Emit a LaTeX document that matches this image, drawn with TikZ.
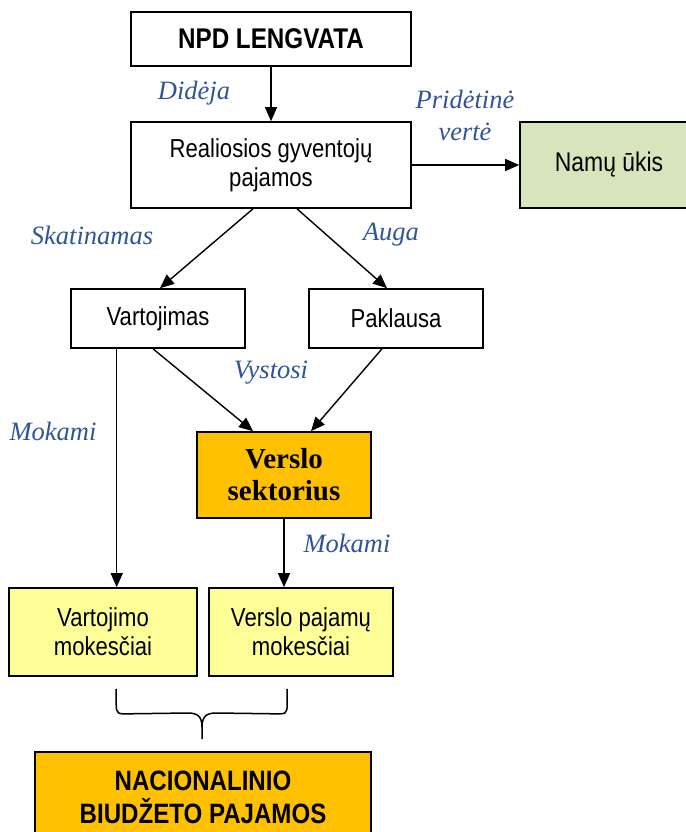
\documentclass[tikz,border=0pt]{standalone}
\usepackage{fontspec}
\setmainfont{Liberation Serif}
\newfontfamily\narrowsans{Liberation Sans}[FakeStretch=0.85]
\newfontfamily\headsans{Liberation Sans}[FakeStretch=0.86]
\usetikzlibrary{arrows.meta,calc}

\definecolor{labelblue}{RGB}{47,85,151}
\definecolor{hhgreen}{RGB}{215,228,188}
\definecolor{bizorange}{RGB}{255,192,0}
\definecolor{taxyellow}{RGB}{255,255,153}

\tikzset{
  box/.style={draw=black, line width=1.6pt, rectangle, align=center, inner sep=2pt,
              font=\narrowsans\fontsize{26}{29}\selectfont},
  flow/.style={line width=1.4pt, -{Triangle[length=14pt,width=12pt]}},
  note/.style={text=labelblue, align=center,
               font=\itshape\fontsize{26.5}{32}\selectfont},
}

\begin{document}
\begin{tikzpicture}[x=1pt,y=1pt]
\useasboundingbox (0,0) rectangle (685,-832);

% boxes
\node[box, minimum width=280, minimum height=54,
      font=\narrowsans\bfseries\fontsize{28.5}{30}\selectfont] (npd) at (271,-39) {NPD LENGVATA};
\node[box, minimum width=280, minimum height=86] (real) at (271,-165)
      {Realiosios gyventojų\\pajamos};
\node[box, fill=hhgreen, minimum width=178, minimum height=86,
      font=\narrowsans\fontsize{27}{29}\selectfont] (namu) at (609,-165)
      {Namų ūkis};
\node[box, minimum width=174, minimum height=59] (vart) at (158,-318.5) {Vartojimas};
\node[box, minimum width=174, minimum height=59] (pakl) at (396,-318.5) {Paklausa};
\node[box, fill=bizorange, minimum width=174, minimum height=86,
      font=\bfseries\fontsize{29}{32}\selectfont] (verslo) at (284,-475) {Verslo\\sektorius};
\node[box, fill=taxyellow, minimum width=188, minimum height=88] (vmok) at (103,-632)
      {Vartojimo\\mokesčiai};
\node[box, fill=taxyellow, minimum width=184, minimum height=88] (vpmok) at (301,-632)
      {Verslo pajamų\\mokesčiai};
\node[box, fill=bizorange, minimum width=336, minimum height=90,
      font=\headsans\bfseries\fontsize{28}{33}\selectfont] (nac) at (203,-797)
      {NACIONALINIO\\BIUDŽETO PAJAMOS};

% connectors
\draw[flow] (npd.south) -- (real.north);
\draw[flow] (real.east) -- (namu.west);
\draw[flow] ($(real.south)+(-18,0)$) -- ($(vart.north)+(2,0)$);
\draw[flow] ($(real.south)+(26,0)$) -- ($(pakl.north)+(-9,0)$);
\draw[flow] ($(vart.south)+(-5,0)$) -- ($(verslo.north)+(-31,0)$);
\draw[flow] ($(pakl.south)+(-14,0)$) -- ($(verslo.north)+(27,0)$);
\coordinate (vdrop) at ($(vart.south west)+(46.5,0)$);
\draw[flow] (vdrop) -- (vdrop |- vmok.north);
\draw[flow] (verslo.south) -- (verslo.south |- vpmok.north);

% brace gathering both taxes
\coordinate (bl) at ($(vmok.south west)+(108,-12)$);
\coordinate (br) at ($(vpmok.south west)+(79,-12)$);
\coordinate (btip) at (202,-739);
\draw[line width=1.5pt]
  (bl) -- ++(0,-15) .. controls ++(0,-11) and ++(-11,0) .. ($(bl)+(13,-25)$)
  -- (188,-713) .. controls (197,-713) and (202,-716) .. (202,-727) -- (btip);
\draw[line width=1.5pt]
  (br) -- ++(0,-15) .. controls ++(0,-11) and ++(11,0) .. ($(br)+(-13,-25)$)
  -- (216,-713) .. controls (207,-713) and (202,-716) .. (202,-727);

% edge notes
\node[note] (n1) at (194,-93) {Didėja};
\node[note] (n2) at (465,-115) {Pridėtinė\\vertė};
\node[note] (n3) at (92,-235) {Skatinamas};
\node[note] (n4) at (391,-235) {Auga};
\node[note] (n5) at (271,-373) {Vystosi};
\node[note] (n6) at (53,-431) {Mokami};
\node[note] (n7) at (347,-543) {Mokami};
\end{tikzpicture}
\end{document}
